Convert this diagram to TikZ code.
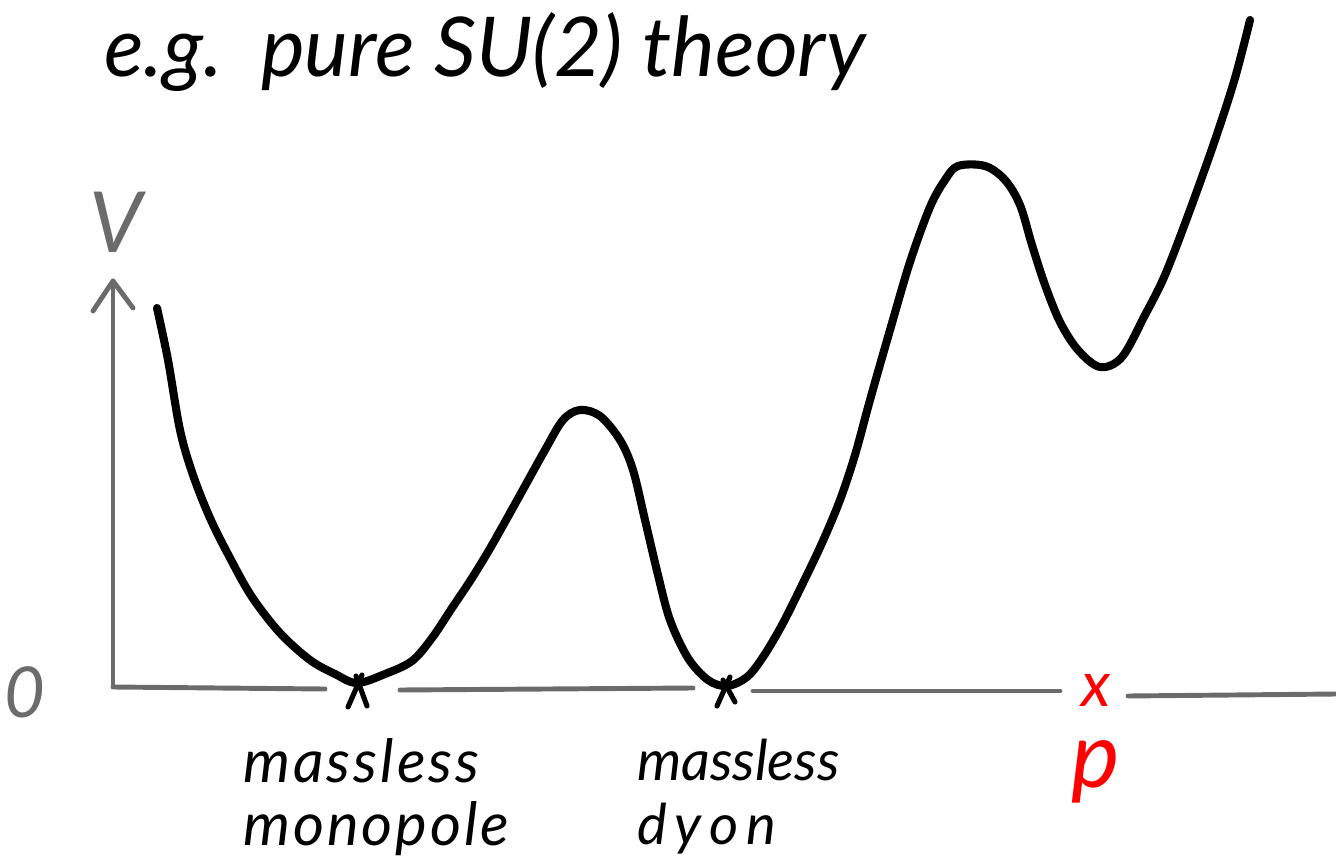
\documentclass[tikz,border=0pt]{standalone}
\usepackage{fontspec}
\setmainfont{Lato}
\definecolor{axisgrey}{HTML}{6B6B6B}
\definecolor{pred}{HTML}{FF0000}
\begin{document}
\begin{tikzpicture}[x=0.02cm,y=-0.02cm,
  axis/.style={draw=axisgrey,line width=2.8pt,line cap=round,line join=round},
  curve/.style={draw=black,line width=4.6pt,line cap=round,line join=round},
  crossmark/.style={draw=black,line width=2.9pt,line cap=round},
  hand/.style={inner sep=0pt,font=\itshape},
  lbl/.style={hand,font=\itshape\fontsize{34}{36}\selectfont\addfontfeatures{LetterSpace=5},align=left},
  lbltwo/.style={hand,font=\itshape\fontsize{32}{36}\selectfont,align=left}]
\useasboundingbox (0,0) rectangle (1336,865);
% title
\node[hand,anchor=west,font=\itshape\fontsize{47}{56}\selectfont] (title) at (104,52) {e.g.\ \ pure SU(2) theory};
% axes
\coordinate (ybot) at (113,686);
\coordinate (ytop) at (113,281);
\coordinate (bl) at (93,311);
\coordinate (br) at (133,308);
\draw[axis] (ybot) -- (ytop);
\draw[axis] (bl) -- (ytop) -- (br);
\node[hand,text=axisgrey,font=\itshape\fontsize{48}{50}\selectfont] (V) at (116,222) {V};
\node[hand,text=axisgrey,font=\itshape\fontsize{40}{48}\selectfont] (zero) at (25,692) {0};
\coordinate (a1) at (113,687); \coordinate (a2) at (325,689);
\coordinate (b1) at (400,690); \coordinate (b2) at (693,688);
\coordinate (c1) at (753,691); \coordinate (c2) at (1060,691);
\coordinate (d1) at (1128,696); \coordinate (d2) at (1336,694);
\draw[axis] (a1) -- (a2);
\draw[axis] (b1) -- (b2);
\draw[axis] (c1) -- (c2);
\draw[axis] (d1) -- (d2);
% potential curve
\draw[curve] plot[smooth,tension=0.55] coordinates {
 (157,308) (168,360) (180,430) (193,475) (210,518) (230,558) (252,597)
 (280,633) (310,660) (335,674) (357,683) (385,674) (412,661) (432,638)
 (452,608) (472,578) (492,545) (520,495) (545,450) (563,420) (580,410)
 (600,416) (620,440) (633,470) (645,520) (658,575) (670,620) (688,658)
 (708,680) (727,686) (747,677) (763,657) (782,625) (802,585) (822,543)
 (840,500) (855,455) (870,400) (890,330) (910,262) (930,207) (945,180)
 (958,166) (985,166) (1005,180) (1020,205) (1032,245) (1045,285)
 (1060,322) (1078,350) (1100,367) (1122,357) (1145,315) (1165,275)
 (1190,210) (1215,140) (1235,78) (1250,20)};
% crosses at massless points
\coordinate (m1a) at (348,707); \coordinate (m1b) at (362,675);
\coordinate (m2a) at (367,706); \coordinate (m2b) at (356,676);
\draw[crossmark] (m1a) -- (m1b);
\draw[crossmark] (m2a) -- (m2b);
\coordinate (d1a) at (717,706); \coordinate (d1b) at (730,677);
\coordinate (d2a) at (735,702); \coordinate (d2b) at (723,680);
\draw[crossmark] (d1a) -- (d1b);
\draw[crossmark] (d2a) -- (d2b);
% labels
\node[lbl,anchor=north west] (mono) at (243,738) {massless\\monopole};
\node[lbltwo,anchor=north west] (dyon) at (637,739) {massless\\{\addfontfeatures{LetterSpace=14}dyon}};
% red point p
\node[hand,text=pred,font=\itshape\fontsize{36}{40}\selectfont] (px) at (1096,690) {x};
\node[hand,text=pred,font=\itshape\fontsize{52}{60}\selectfont] (p) at (1096,772) {p};
\end{tikzpicture}
\end{document}
